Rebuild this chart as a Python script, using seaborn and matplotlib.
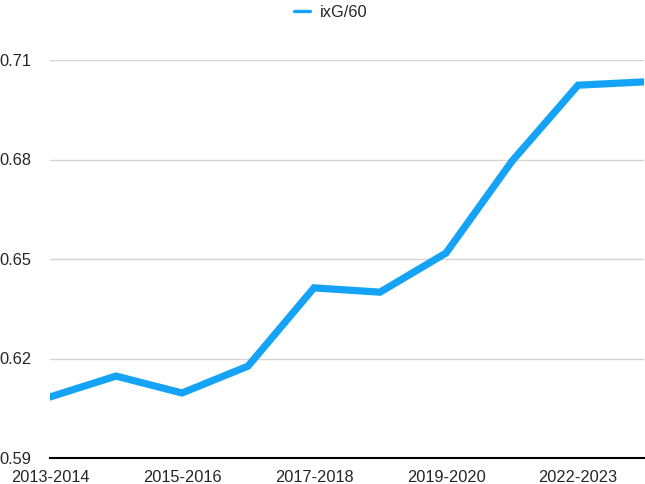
import pandas as pd
import matplotlib
matplotlib.use("Agg")
import matplotlib.pyplot as plt
import seaborn as sns

seasons = ["2013-2014", "2014-2015", "2015-2016", "2016-2017", "2017-2018",
           "2018-2019", "2019-2020", "2021-2022", "2022-2023", "2023-2024"]
ixg60 = [0.6084, 0.6147, 0.6096, 0.6177, 0.6413,
         0.6400, 0.6518, 0.6795, 0.7024, 0.7034]
y_ticks = [0.59, 0.62, 0.65, 0.68, 0.71]
y_tick_labels = ["0.59", "0.62", "0.65", "0.68", "0.71"]

sns.set_style("white")
plt.rcParams["font.family"] = ["Liberation Sans", "DejaVu Sans"]

df = pd.DataFrame({"season": seasons, "ixG/60": ixg60})

fig = plt.figure(figsize=(6.45, 4.84), dpi=100)
ax = fig.add_axes([50 / 645, 1 - 458 / 484, 594 / 645, (458 - 60) / 484])

sns.lineplot(data=df, x="season", y="ixG/60", ax=ax, color="#14A3F7",
             linewidth=5.2, label="ixG/60", solid_joinstyle="miter")

ax.set_xlim(0, len(seasons) - 1)
ax.set_ylim(y_ticks[0], y_ticks[-1])
ax.set_xticks(range(0, len(seasons), 2))
ax.set_xticklabels(seasons[::2], fontsize=11.8)
ax.set_yticks(y_ticks)
ax.set_yticklabels(y_tick_labels, fontsize=11.8)
ax.set_xlabel("")
ax.set_ylabel("")

ax.grid(axis="y", color="#d4d4d4", linewidth=1)
ax.grid(axis="x", visible=False)
for side in ["top", "right", "left"]:
    ax.spines[side].set_visible(False)
ax.spines["bottom"].set_color("black")
ax.spines["bottom"].set_linewidth(1.5)
ax.tick_params(axis="y", length=0, pad=13.5)
ax.tick_params(axis="x", length=0, pad=8.5)

leg = ax.legend(loc="center", bbox_to_anchor=(0.473, 1.12), frameon=False,
                fontsize=11.8, handlelength=0.95, handletextpad=0.6)
for h in leg.get_lines():
    h.set_linewidth(2.4)

plt.savefig("out.png", dpi=100)
plt.close()
